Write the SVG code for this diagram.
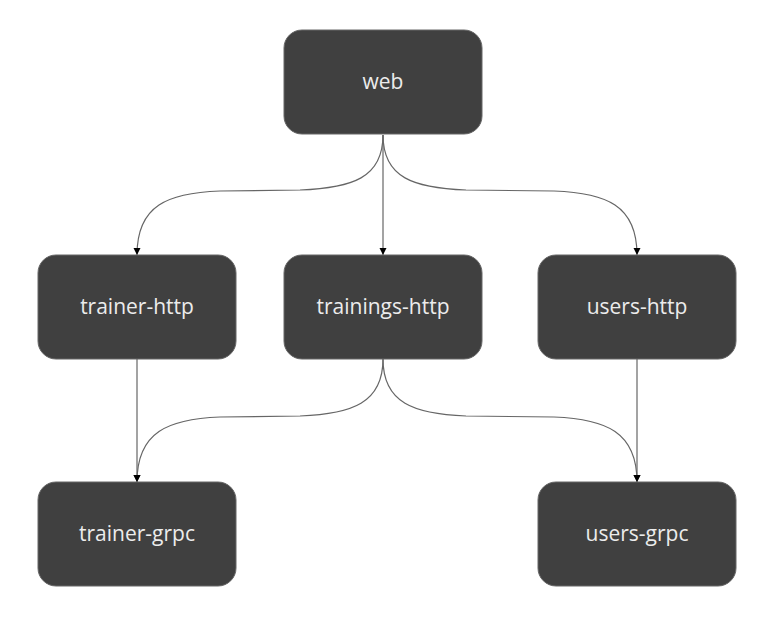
<svg xmlns="http://www.w3.org/2000/svg" width="775" height="621" viewBox="0 0 775 621">
<style>
.node rect{fill:#404040;stroke:#666;stroke-width:1}
.node text{fill:#ececec;font-family:"Open Sans","Noto Sans",sans-serif;font-size:21px;text-anchor:middle;dominant-baseline:central}
.edge{fill:none;stroke:#666;stroke-width:1.2}
</style>
<defs>
<marker id="arr" viewBox="0 0 10 10" refX="10" refY="5" markerWidth="7" markerHeight="10" markerUnits="userSpaceOnUse" orient="auto">
<path d="M0,0 L10,5 L0,10 z" fill="#000"/>
</marker>
</defs>
<rect width="775" height="621" fill="#fff"/>
<g id="connectors">
<path class="edge" marker-end="url(#arr)" d="M383,135 C383,178 352,188 300,190 L220,191 C168,193 137,205 137,255"/>
<path class="edge" marker-end="url(#arr)" d="M383,135 L383,255"/>
<path class="edge" marker-end="url(#arr)" d="M383,135 C383,178 414,188 466,190 L554,191 C606,193 637,205 637,255"/>
<path class="edge" marker-end="url(#arr)" d="M137,359 L137,482"/>
<path class="edge" marker-end="url(#arr)" d="M383,359 C383,403 352,414 300,416 L220,417 C168,419 137,432 137,482"/>
<path class="edge" marker-end="url(#arr)" d="M383,359 C383,403 414,414 466,416 L554,417 C606,419 637,432 637,482"/>
<path class="edge" marker-end="url(#arr)" d="M637,359 L637,482"/>
</g>
<g id="web" class="node"><rect x="284" y="30" width="198" height="104" rx="18"/><text x="383" y="81">web</text></g>
<g id="trainer-http" class="node"><rect x="38" y="255" width="198" height="104" rx="18"/><text x="137" y="306">trainer-http</text></g>
<g id="trainings-http" class="node"><rect x="284" y="255" width="198" height="104" rx="18"/><text x="383" y="306">trainings-http</text></g>
<g id="users-http" class="node"><rect x="538" y="255" width="198" height="104" rx="18"/><text x="637" y="306">users-http</text></g>
<g id="trainer-grpc" class="node"><rect x="38" y="482" width="198" height="104" rx="18"/><text x="137" y="533">trainer-grpc</text></g>
<g id="users-grpc" class="node"><rect x="538" y="482" width="198" height="104" rx="18"/><text x="637" y="533">users-grpc</text></g>
</svg>
